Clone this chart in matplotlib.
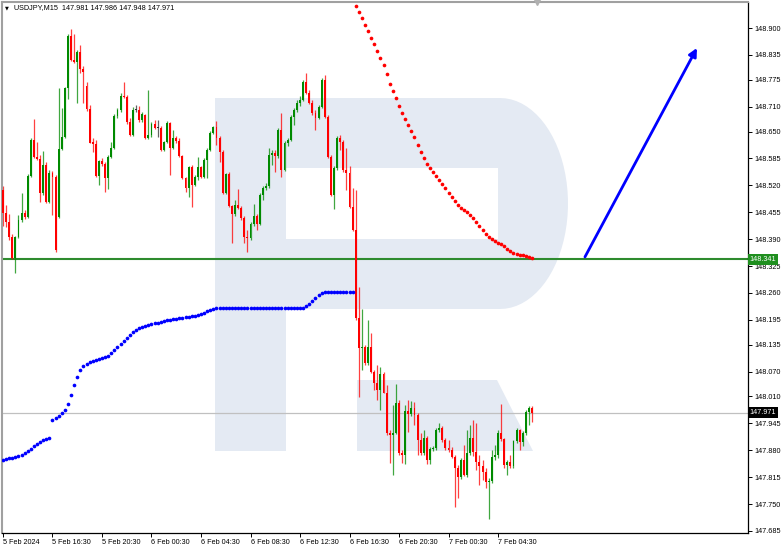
import numpy as np
import matplotlib
matplotlib.use('Agg')
import matplotlib.pyplot as plt
import matplotlib.transforms as mtransforms
from matplotlib.patches import Polygon

# USDJPY M15 candles (5 Feb 12:30 .. 7 Feb 07:15)
opens = [
    148.509, 148.453, 148.431, 148.395, 148.345, 148.395, 148.436, 148.453, 148.443, 148.543,
    148.630, 148.589, 148.584, 148.502, 148.569, 148.480, 148.550, 148.540, 148.443, 148.608,
    148.637, 148.755, 148.880, 148.823, 148.818, 148.842, 148.801, 148.760, 148.704, 148.625,
    148.620, 148.543, 148.579, 148.572, 148.538, 148.589, 148.611, 148.688, 148.702, 148.736,
    148.733, 148.673, 148.642, 148.703, 148.703, 148.678, 148.690, 148.635, 148.642, 148.668,
    148.659, 148.659, 148.606, 148.625, 148.671, 148.611, 148.635, 148.628, 148.591, 148.538,
    148.514, 148.565, 148.521, 148.540, 148.565, 148.540, 148.581, 148.606, 148.647, 148.661,
    148.635, 148.601, 148.502, 148.547, 148.470, 148.450, 148.473, 148.465, 148.441, 148.395,
    148.393, 148.426, 148.446, 148.426, 148.497, 148.514, 148.518, 148.594, 148.598, 148.591,
    148.654, 148.557, 148.623, 148.630, 148.685, 148.702, 148.719, 148.726, 148.770, 148.743,
    148.719, 148.695, 148.683, 148.709, 148.775, 148.685, 148.589, 148.497, 148.562, 148.635,
    148.625, 148.557, 148.550, 148.468, 148.412, 148.200, 148.127, 148.130, 148.091, 148.130,
    148.069, 148.043, 148.026, 148.064, 148.019, 147.922, 147.917, 147.922, 147.995, 147.874,
    147.869, 147.975, 147.968, 147.983, 147.966, 147.905, 147.874, 147.910, 147.857, 147.883,
    147.886, 147.929, 147.934, 147.905, 147.886, 147.881, 147.864, 147.838, 147.816, 147.857,
    147.821, 147.874, 147.910, 147.876, 147.852, 147.842, 147.828, 147.804, 147.806, 147.864,
    147.869, 147.922, 147.907, 147.845, 147.852, 147.842, 147.902, 147.929, 147.900, 147.922,
    147.973, 147.981]
highs = [
    148.518, 148.473, 148.450, 148.402, 148.398, 148.448, 148.502, 148.460, 148.547, 148.635,
    148.680, 148.625, 148.594, 148.603, 148.576, 148.557, 148.555, 148.545, 148.755, 148.707,
    148.758, 148.885, 148.898, 148.885, 148.847, 148.859, 148.809, 148.770, 148.714, 148.635,
    148.630, 148.581, 148.587, 148.576, 148.594, 148.625, 148.692, 148.707, 148.743, 148.770,
    148.738, 148.683, 148.709, 148.714, 148.712, 148.697, 148.692, 148.750, 148.673, 148.678,
    148.678, 148.664, 148.628, 148.676, 148.673, 148.654, 148.640, 148.635, 148.594, 148.540,
    148.567, 148.569, 148.545, 148.589, 148.567, 148.587, 148.611, 148.652, 148.664, 148.676,
    148.640, 148.606, 148.550, 148.552, 148.473, 148.485, 148.511, 148.470, 148.446, 148.412,
    148.431, 148.475, 148.450, 148.502, 148.518, 148.526, 148.611, 148.606, 148.606, 148.659,
    148.695, 148.628, 148.635, 148.690, 148.707, 148.726, 148.736, 148.775, 148.792, 148.750,
    148.726, 148.702, 148.714, 148.780, 148.787, 148.690, 148.594, 148.567, 148.640, 148.642,
    148.630, 148.611, 148.567, 148.514, 148.509, 148.274, 148.222, 148.134, 148.195, 148.164,
    148.074, 148.086, 148.081, 148.069, 148.038, 147.929, 147.990, 148.040, 148.002, 147.881,
    147.990, 148.002, 147.999, 147.997, 147.971, 147.922, 147.929, 147.915, 147.888, 147.890,
    147.934, 147.946, 147.939, 147.910, 147.905, 147.888, 147.869, 147.845, 147.862, 147.893,
    147.929, 147.941, 147.953, 147.946, 147.869, 147.857, 147.838, 147.813, 147.881, 147.893,
    147.929, 147.992, 147.910, 147.857, 147.869, 147.905, 147.934, 147.931, 147.926, 147.978,
    147.986, 147.986]
lows = [
    148.421, 148.419, 148.388, 148.342, 148.309, 148.393, 148.431, 148.438, 148.441, 148.540,
    148.587, 148.581, 148.480, 148.497, 148.478, 148.478, 148.448, 148.359, 148.441, 148.606,
    148.635, 148.728, 148.820, 148.816, 148.719, 148.792, 148.719, 148.700, 148.622, 148.601,
    148.540, 148.521, 148.567, 148.504, 148.511, 148.587, 148.608, 148.683, 148.697, 148.731,
    148.668, 148.640, 148.640, 148.697, 148.673, 148.673, 148.632, 148.632, 148.637, 148.656,
    148.637, 148.603, 148.603, 148.623, 148.545, 148.608, 148.623, 148.589, 148.535, 148.504,
    148.492, 148.468, 148.519, 148.533, 148.538, 148.538, 148.538, 148.603, 148.645, 148.618,
    148.576, 148.499, 148.499, 148.468, 148.381, 148.446, 148.463, 148.436, 148.381, 148.359,
    148.388, 148.421, 148.412, 148.424, 148.485, 148.509, 148.514, 148.569, 148.552, 148.587,
    148.540, 148.555, 148.615, 148.628, 148.666, 148.697, 148.712, 148.724, 148.741, 148.717,
    148.690, 148.654, 148.680, 148.707, 148.683, 148.587, 148.494, 148.463, 148.557, 148.606,
    148.552, 148.509, 148.465, 148.410, 148.195, 148.009, 148.074, 148.086, 148.086, 148.067,
    148.026, 148.002, 147.978, 148.019, 147.917, 147.849, 147.821, 147.919, 147.869, 147.849,
    147.847, 147.924, 147.963, 147.941, 147.869, 147.869, 147.869, 147.847, 147.847, 147.878,
    147.881, 147.924, 147.900, 147.881, 147.876, 147.862, 147.743, 147.765, 147.811, 147.818,
    147.816, 147.869, 147.866, 147.833, 147.797, 147.809, 147.789, 147.714, 147.801, 147.857,
    147.862, 147.902, 147.838, 147.821, 147.838, 147.838, 147.898, 147.881, 147.890, 147.917,
    147.941, 147.948]
closes = [
    148.453, 148.431, 148.395, 148.345, 148.395, 148.436, 148.453, 148.443, 148.543, 148.630,
    148.589, 148.584, 148.502, 148.569, 148.480, 148.550, 148.540, 148.364, 148.608, 148.637,
    148.755, 148.880, 148.823, 148.818, 148.842, 148.801, 148.794, 148.704, 148.623, 148.620,
    148.543, 148.579, 148.572, 148.538, 148.589, 148.611, 148.688, 148.702, 148.736, 148.733,
    148.673, 148.642, 148.702, 148.703, 148.678, 148.692, 148.635, 148.642, 148.668, 148.659,
    148.659, 148.606, 148.625, 148.671, 148.611, 148.635, 148.628, 148.591, 148.538, 148.514,
    148.565, 148.521, 148.540, 148.565, 148.540, 148.581, 148.606, 148.647, 148.661, 148.635,
    148.601, 148.502, 148.547, 148.470, 148.450, 148.473, 148.465, 148.441, 148.395, 148.393,
    148.426, 148.446, 148.426, 148.497, 148.514, 148.518, 148.594, 148.598, 148.591, 148.654,
    148.557, 148.623, 148.630, 148.685, 148.702, 148.719, 148.726, 148.770, 148.743, 148.719,
    148.695, 148.683, 148.709, 148.775, 148.685, 148.589, 148.497, 148.562, 148.635, 148.625,
    148.557, 148.550, 148.468, 148.412, 148.200, 148.127, 148.130, 148.091, 148.130, 148.069,
    148.043, 148.026, 148.064, 148.019, 147.922, 147.917, 147.922, 147.995, 147.874, 147.869,
    147.975, 147.968, 147.983, 147.966, 147.905, 147.874, 147.910, 147.857, 147.883, 147.886,
    147.929, 147.934, 147.905, 147.886, 147.881, 147.864, 147.838, 147.816, 147.857, 147.821,
    147.874, 147.910, 147.876, 147.852, 147.842, 147.828, 147.804, 147.806, 147.864, 147.869,
    147.922, 147.907, 147.845, 147.852, 147.842, 147.902, 147.929, 147.900, 147.922, 147.973,
    147.981, 147.971]

# parabolic SAR: blue below price (bars 0..113), red above price (bars 114..171)
sar_up = [
    147.857, 147.859, 147.862, 147.862, 147.864, 147.866, 147.869, 147.874, 147.878, 147.883,
    147.890, 147.895, 147.900, 147.905, 147.907, 147.910, 147.953, 147.958, 147.963, 147.970,
    147.978, 147.992, 148.014, 148.038, 148.057, 148.074, 148.084, 148.089, 148.093, 148.096,
    148.098, 148.100, 148.103, 148.105, 148.108, 148.115, 148.122, 148.129, 148.137, 148.144,
    148.151, 148.158, 148.166, 148.171, 148.175, 148.178, 148.180, 148.183, 148.185, 148.187,
    148.187, 148.190, 148.192, 148.195, 148.195, 148.197, 148.197, 148.199, 148.199, 148.202,
    148.202, 148.204, 148.204, 148.207, 148.209, 148.212, 148.217, 148.219, 148.221, 148.224,
    148.224, 148.224, 148.224, 148.224, 148.224, 148.224, 148.224, 148.224, 148.224, 148.224,
    148.224, 148.224, 148.224, 148.224, 148.224, 148.224, 148.224, 148.224, 148.224, 148.224,
    148.224, 148.224, 148.224, 148.224, 148.224, 148.224, 148.224, 148.224, 148.229, 148.233,
    148.241, 148.248, 148.255, 148.260, 148.262, 148.262, 148.262, 148.262, 148.262, 148.262,
    148.262, 148.262, 148.262, 148.262]
sar_down = [
    148.954, 148.939, 148.925, 148.907, 148.893, 148.876, 148.862, 148.845, 148.828, 148.811,
    148.789, 148.765, 148.748, 148.731, 148.712, 148.695, 148.680, 148.666, 148.651, 148.637,
    148.618, 148.601, 148.587, 148.572, 148.562, 148.552, 148.543, 148.533, 148.523, 148.514,
    148.502, 148.492, 148.482, 148.473, 148.465, 148.460, 148.456, 148.448, 148.441, 148.431,
    148.421, 148.412, 148.402, 148.395, 148.390, 148.386, 148.381, 148.378, 148.373, 148.366,
    148.361, 148.357, 148.354, 148.352, 148.352, 148.349, 148.347, 148.345]

level_price = 148.341
bid_price = 147.971
arrow_start = (188.1, 148.347)
arrow_end = (224.3, 148.852)

time_labels = ['5 Feb 2024', '5 Feb 16:30', '5 Feb 20:30', '6 Feb 00:30', '6 Feb 04:30',
               '6 Feb 08:30', '6 Feb 12:30', '6 Feb 16:30', '6 Feb 20:30', '7 Feb 00:30',
               '7 Feb 04:30']
price_ticks = [148.900, 148.835, 148.775, 148.710, 148.650, 148.585, 148.520, 148.455,
               148.390, 148.325, 148.260, 148.195, 148.135, 148.070, 148.010, 147.945,
               147.880, 147.815, 147.750, 147.685]

W, H = 782, 549
FS = 5.2
GREEN = '#008a00'
RED = '#ff0000'
plt.rcParams['font.family'] = ['Liberation Sans', 'DejaVu Sans']

fig = plt.figure(figsize=(W / 100, H / 100), dpi=100)
fig.patch.set_facecolor('white')
ax = fig.add_axes([2 / W, 16 / H, 746 / W, 531 / H])
ax.set_xlim(-0.32, 240.8)
ax.set_ylim(147.680, 148.963)


# watermark logo, drawn in picture pixels
def px(pts):
    return [((x - 2) / 746, (533 - y) / 531) for x, y in pts]


wm = '#e4eaf3'
t = np.linspace(np.pi / 2, -np.pi / 2, 40)
bowl = [(215, 98), (500, 98)] + list(zip(500 + 68 * np.cos(t), 203.5 - 105.5 * np.sin(t))) + \
       [(500, 309), (286, 309), (286, 451), (215, 451)]
ax.add_patch(Polygon(px(bowl), closed=True, transform=ax.transAxes, fc=wm, ec='none', zorder=0.1))
ax.add_patch(Polygon(px([(286, 168), (498, 168), (498, 239), (286, 239)]), closed=True,
                     transform=ax.transAxes, fc='white', ec='none', zorder=0.2))
ax.add_patch(Polygon(px([(357, 380), (497, 380), (533, 451), (357, 451)]), closed=True,
                     transform=ax.transAxes, fc=wm, ec='none', zorder=0.1))

# lines
ax.axhline(bid_price, color='#c0c0c0', lw=0.9, zorder=1)
ax.axhline(level_price, color='#2e8b2e', lw=1.5, zorder=1.5)

# candles
idx = np.arange(len(closes))
o = np.array(opens)
c = np.array(closes)
hi = np.array(highs)
lo = np.array(lows)
cols = np.where(c > o, GREEN, np.where(c < o, RED, '#303030'))
ax.vlines(idx, lo, hi, colors=cols, lw=0.9, alpha=0.75, zorder=2)
body_h = np.abs(c - o)
ax.bar(idx, np.maximum(body_h, 0.0012), bottom=np.minimum(o, c), width=0.62,
       color=cols, linewidth=0, zorder=3)

# SAR dots
ax.scatter(idx[:len(sar_up)], sar_up, s=7, color='#0000ff', lw=0, zorder=4)
ax.scatter(idx[len(sar_up):], sar_down, s=7, color='#ff0000', lw=0, zorder=4)

# forecast arrow
ax.annotate('', xy=arrow_end, xytext=arrow_start,
            arrowprops=dict(arrowstyle='-|>', color='#0000ff', lw=2.0,
                            mutation_scale=12, shrinkA=0, shrinkB=0), zorder=5)

# chart shift marker
ax.plot([172.6], [1.0], marker='v', color='#b0b0b0', ms=5,
        transform=mtransforms.blended_transform_factory(ax.transData, ax.transAxes),
        clip_on=False, zorder=6)

# axes styling
for side in ['left', 'top']:
    ax.spines[side].set_color('#a0a0a0')
    ax.spines[side].set_linewidth(1.5)
for side in ['right', 'bottom']:
    ax.spines[side].set_color('black')
    ax.spines[side].set_linewidth(0.9)

ax.yaxis.tick_right()
ax.set_yticks(price_ticks)
ax.set_yticklabels(['%.3f' % v for v in price_ticks])
ax.tick_params(axis='y', length=3, width=0.7, pad=1.5, labelsize=FS, colors='black')
ax.set_xticks(np.arange(0, 161, 16))
ax.set_xticklabels(time_labels, ha='left')
ax.tick_params(axis='x', length=3, width=0.7, pad=1.5, labelsize=FS, colors='black')

# price labels on the axis
bt = mtransforms.blended_transform_factory(ax.transAxes, ax.transData)
ax.text(1.002, level_price, '148.341', transform=bt, fontsize=FS, color='white', va='center',
        ha='left', bbox=dict(fc='#1f8f1f', ec='none', pad=1.2), zorder=7, clip_on=False)
ax.text(1.002, bid_price, '147.971', transform=bt, fontsize=FS, color='white', va='center',
        ha='left', bbox=dict(fc='black', ec='none', pad=1.2), zorder=7, clip_on=False)

# title
fig.text(5 / W, 1 - 8 / H, '\u25bc', fontsize=3.6, va='center', ha='left',
         family=['DejaVu Sans'])
fig.text(14 / W, 1 - 8 / H, 'USDJPY,M15  147.981 147.986 147.948 147.971', fontsize=FS,
         va='center', ha='left')

fig.savefig('out.png', dpi=100, facecolor='white')
